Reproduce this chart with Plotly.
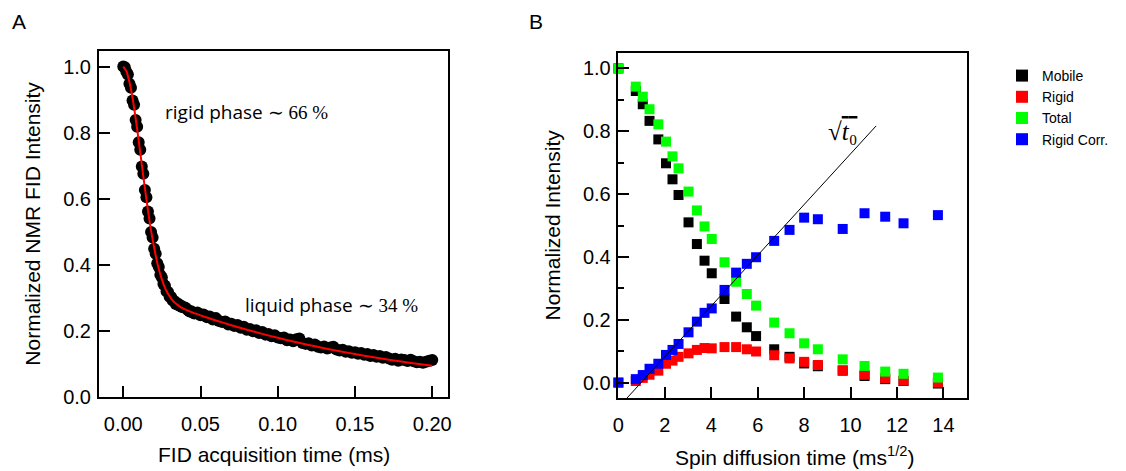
import plotly.graph_objects as go

# ---------------- Panel A: FID decay ----------------
fid_time = [
    0.000, 0.001, 0.002, 0.003, 0.004, 0.005, 0.006, 0.007, 0.008, 0.009,
    0.010, 0.011, 0.012, 0.013, 0.014, 0.015, 0.016, 0.017, 0.018, 0.019,
    0.020, 0.021, 0.022, 0.023, 0.024, 0.025, 0.026, 0.027, 0.028, 0.029,
    0.030, 0.031, 0.032, 0.033, 0.034, 0.035, 0.036, 0.037, 0.038, 0.039,
    0.040, 0.041, 0.042, 0.043, 0.044, 0.045,
    0.046, 0.048, 0.050, 0.052, 0.054, 0.056, 0.058, 0.060, 0.062, 0.064,
    0.066, 0.068, 0.070, 0.072, 0.074, 0.076, 0.078, 0.080, 0.082, 0.084,
    0.086, 0.088, 0.090, 0.092, 0.094, 0.096, 0.098, 0.100, 0.102, 0.104,
    0.106, 0.108, 0.110, 0.112, 0.114, 0.116, 0.118, 0.120, 0.122, 0.124,
    0.126, 0.128, 0.130, 0.132, 0.134, 0.136, 0.138, 0.140, 0.142, 0.144,
    0.146, 0.148, 0.150, 0.152, 0.154, 0.156, 0.158, 0.160, 0.162, 0.164,
    0.166, 0.168, 0.170, 0.172, 0.174, 0.176, 0.178, 0.180, 0.182, 0.184,
    0.186, 0.188, 0.190, 0.192, 0.194, 0.196, 0.198, 0.200,
]
fid_intensity = [
    1.000, 0.998, 0.984, 0.976, 0.948, 0.936, 0.897, 0.884, 0.838, 0.818,
    0.771, 0.748, 0.697, 0.675, 0.626, 0.604, 0.561, 0.540, 0.499, 0.482,
    0.448, 0.433, 0.404, 0.393, 0.369, 0.361, 0.341, 0.336, 0.319, 0.317,
    0.303, 0.302, 0.291, 0.290, 0.281, 0.283, 0.276, 0.277, 0.272, 0.271,
    0.270, 0.266, 0.262, 0.258, 0.259, 0.255,
    0.252, 0.255, 0.247, 0.249, 0.241, 0.243, 0.234, 0.238, 0.229, 0.226,
    0.228, 0.219, 0.221, 0.214, 0.217, 0.209, 0.212, 0.203, 0.205, 0.198,
    0.201, 0.193, 0.196, 0.188, 0.190, 0.183, 0.186, 0.179, 0.177, 0.179,
    0.171, 0.173, 0.168, 0.174, 0.176, 0.163, 0.160, 0.162, 0.155, 0.158,
    0.151, 0.149, 0.152, 0.146, 0.149, 0.151, 0.143, 0.140, 0.142, 0.136,
    0.138, 0.133, 0.135, 0.130, 0.132, 0.127, 0.129, 0.123, 0.126, 0.121,
    0.123, 0.118, 0.120, 0.116, 0.112, 0.115, 0.109, 0.113, 0.111, 0.108,
    0.112, 0.107, 0.104, 0.106, 0.103, 0.106, 0.109, 0.111,
]

fit_time = [
    0.000, 0.002, 0.004, 0.006, 0.008, 0.010, 0.012, 0.014, 0.016, 0.018,
    0.020, 0.022, 0.024, 0.026, 0.028, 0.030, 0.032, 0.034, 0.036, 0.038,
    0.040, 0.045, 0.050, 0.060, 0.070, 0.080, 0.090, 0.100, 0.110, 0.120,
    0.130, 0.140, 0.150, 0.160, 0.170, 0.180, 0.190, 0.200,
]
fit_intensity = [
    1.000, 0.986, 0.953, 0.905, 0.844, 0.776, 0.703, 0.632, 0.564, 0.503,
    0.451, 0.406, 0.370, 0.342, 0.320, 0.304, 0.291, 0.282, 0.275, 0.269,
    0.2645, 0.2546, 0.2463, 0.2309, 0.2164, 0.2029, 0.1903, 0.1784, 0.1672, 0.1568,
    0.1470, 0.1378, 0.1292, 0.1211, 0.1135, 0.1065, 0.0998, 0.0936,
]

# ---------------- Panel B: spin diffusion ----------------
diff_time = [0.0, 0.75, 1.05, 1.34, 1.72, 2.05, 2.33, 2.59, 3.02, 3.38,
             3.71, 4.02, 4.57, 5.07, 5.53, 5.93, 6.71, 7.37, 8.00, 8.59,
             9.66, 10.60, 11.49, 12.28, 13.76]
mobile = [1.000, 0.928, 0.886, 0.833, 0.774, 0.698, 0.647, 0.597, 0.510, 0.441,
          0.388, 0.348, 0.266, 0.210, 0.176, 0.148, 0.106, 0.082, 0.061, 0.052,
          0.038, 0.021, 0.011, 0.005, -0.003]
rigid = [0.000, 0.005, 0.015, 0.025, 0.038, 0.060, 0.070, 0.082, 0.093, 0.104,
         0.110, 0.109, 0.113, 0.113, 0.106, 0.099, 0.087, 0.077, 0.066, 0.056,
         0.039, 0.025, 0.014, 0.006, 0.000]
total = [1.000, 0.942, 0.910, 0.870, 0.822, 0.767, 0.720, 0.682, 0.608, 0.548,
         0.497, 0.457, 0.383, 0.321, 0.282, 0.245, 0.191, 0.157, 0.125, 0.106,
         0.074, 0.053, 0.035, 0.028, 0.016]
rigid_corr = [0.000, 0.011, 0.024, 0.044, 0.060, 0.088, 0.104, 0.123, 0.160, 0.194,
              0.222, 0.236, 0.295, 0.350, 0.378, 0.399, 0.451, 0.486, 0.525, 0.520,
              0.489, 0.539, 0.528, 0.507, 0.533]

# guide line for sqrt(t0)
guide_x = [0.36, 11.10]
guide_y = [-0.05, 0.817]

series_b = [
    ("Mobile", mobile, "#000000"),
    ("Rigid", rigid, "#ff0000"),
    ("Total", total, "#00ff00"),
    ("Rigid Corr.", rigid_corr, "#0000ff"),
]

W, H = 1126, 471
SANS = "Liberation Sans, Arial, sans-serif"
SERIF = "Liberation Serif, DejaVu Serif, serif"

fig = go.Figure()

fig.add_trace(go.Scatter(
    x=fid_time, y=fid_intensity, mode="markers",
    marker=dict(symbol="circle", size=12, color="#000000", line=dict(width=0)),
    xaxis="x", yaxis="y", showlegend=False, cliponaxis=False,
))
fig.add_trace(go.Scatter(
    x=fit_time, y=fit_intensity, mode="lines",
    line=dict(color="#ff0000", width=2, shape="spline", smoothing=0.6),
    xaxis="x", yaxis="y", showlegend=False,
))

for name, vals, col in series_b:
    fig.add_trace(go.Scatter(
        x=diff_time, y=vals, mode="markers", name=name,
        marker=dict(symbol="square", size=10, color=col, line=dict(width=0)),
        xaxis="x2", yaxis="y2", cliponaxis=False,
    ))

fig.add_trace(go.Scatter(
    x=guide_x, y=guide_y, mode="lines",
    line=dict(color="#000000", width=1),
    xaxis="x2", yaxis="y2", showlegend=False,
))


def axis_style(**extra):
    style = dict(
        showline=True, linecolor="black", linewidth=2, mirror=True,
        ticks="inside", ticklen=11, tickwidth=1.5, tickcolor="black",
        showgrid=False, zeroline=False, automargin=False,
        tickfont=dict(family=SANS, size=20, color="black"),
    )
    style.update(extra)
    return style


fig.update_layout(
    template="none",
    width=W, height=H,
    margin=dict(l=0, r=0, t=0, b=0, pad=0),
    paper_bgcolor="white", plot_bgcolor="white",
    font=dict(family=SANS, color="black"),
    xaxis=axis_style(domain=[99 / W, 448 / W], range=[-0.0157, 0.2102],
                     tickvals=[0, 0.05, 0.10, 0.15, 0.20], tickformat=".2f",
                     ticklabelstandoff=8, anchor="y"),
    yaxis=axis_style(domain=[1 - 396.7 / H, 1 - 50.7 / H], range=[0, 1.048],
                     tickvals=[0, 0.2, 0.4, 0.6, 0.8, 1.0], tickformat=".1f",
                     ticklabelstandoff=2, anchor="x"),
    xaxis2=axis_style(domain=[617.7 / W, 966.7 / W], range=[-0.03, 15.0],
                      tickvals=[0, 2, 4, 6, 8, 10, 12, 14],
                      ticklabelstandoff=8, anchor="y2"),
    yaxis2=axis_style(domain=[1 - 398.3 / H, 1 - 52.7 / H], range=[-0.05, 1.05],
                      tickvals=[0, 0.2, 0.4, 0.6, 0.8, 1.0], tickformat=".1f",
                      minor=dict(dtick=0.1, ticks="inside", ticklen=6,
                                 tickwidth=1.5, tickcolor="black"),
                      ticklabelstandoff=1, anchor="x2"),
    legend=dict(
        x=1002 / W, y=1 - 60 / H, xanchor="left", yanchor="top",
        font=dict(family=SANS, size=14, color="black"),
        bgcolor="rgba(0,0,0,0)", itemsizing="constant",
    ),
)

annotations = [
    dict(text="A", x=10 / W, y=1 - 22 / H, xref="paper", yref="paper",
         xanchor="left", yanchor="middle", showarrow=False,
         font=dict(family=SANS, size=21)),
    dict(text="B", x=527 / W, y=1 - 22 / H, xref="paper", yref="paper",
         xanchor="left", yanchor="middle", showarrow=False,
         font=dict(family=SANS, size=21)),
    # axis titles
    dict(text="FID acquisition time (ms)", x=273.5 / W, y=1 - 454 / H,
         xref="paper", yref="paper", xanchor="center", yanchor="middle",
         showarrow=False, font=dict(family=SANS, size=21)),
    dict(text="Normalized NMR FID Intensity", x=33 / W, y=1 - 223.7 / H,
         xref="paper", yref="paper", xanchor="center", yanchor="middle",
         textangle=-90, showarrow=False, font=dict(family=SANS, size=21)),
    dict(text="Spin diffusion time (ms<sup>1/2</sup>)", x=794 / W, y=1 - 456 / H,
         xref="paper", yref="paper", xanchor="center", yanchor="middle",
         showarrow=False, font=dict(family=SANS, size=21)),
    dict(text="Normalized Intensity", x=552 / W, y=1 - 225.5 / H,
         xref="paper", yref="paper", xanchor="center", yanchor="middle",
         textangle=-90, showarrow=False, font=dict(family=SANS, size=21)),
    # phase fractions
    dict(text='rigid phase <span style="font-family:Liberation Serif">\u223c 66 %</span>',
         x=0.0257, y=0.863, xref="x", yref="y", xanchor="left", yanchor="middle",
         showarrow=False, font=dict(family="Open Sans", size=19)),
    dict(text='liquid phase <span style="font-family:Liberation Serif">\u223c 34 %</span>',
         x=0.0776, y=0.278, xref="x", yref="y", xanchor="left", yanchor="middle",
         showarrow=False, font=dict(family="Open Sans", size=19)),
    # sqrt(t0) label
    dict(text='\u221a<span style="text-decoration:overline"><i>t</i>\u2080</span>',
         x=9.64, y=0.80, xref="x2", yref="y2", xanchor="center", yanchor="middle",
         showarrow=False, font=dict(family=SERIF, size=25)),
]
fig.update_layout(annotations=annotations)

fig.write_html("out.html")
